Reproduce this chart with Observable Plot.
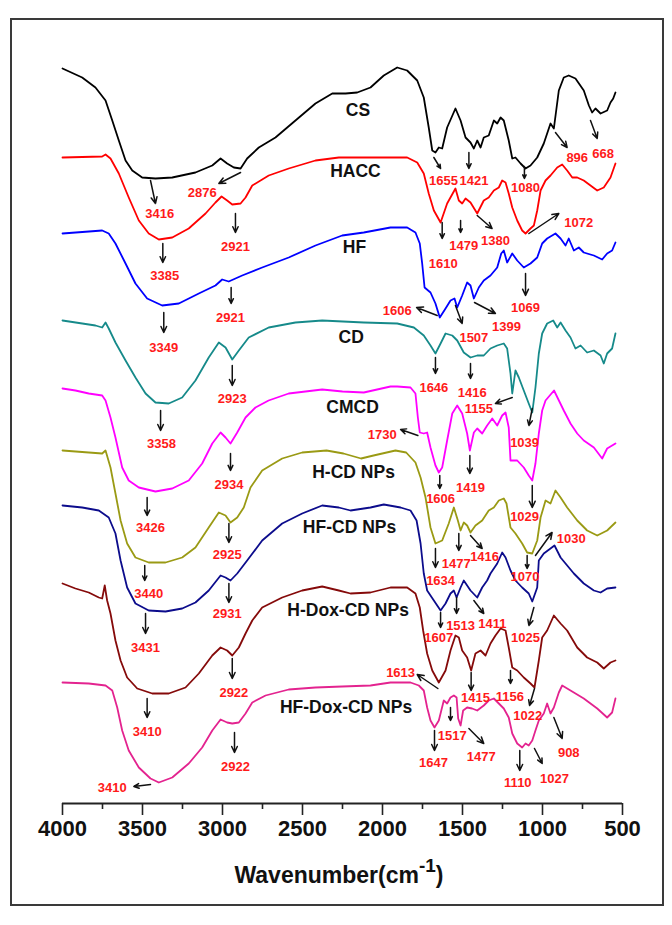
<!DOCTYPE html>
<html>
<head>
<meta charset="utf-8">
<script src="https://cdn.jsdelivr.net/npm/d3@7"></script>
<script src="https://cdn.jsdelivr.net/npm/@observablehq/plot@0.6"></script>
<style>
  html, body { margin: 0; padding: 0; background: #fff; }
  #wrap { position: relative; width: 672px; height: 925px; }
  #border { position: absolute; left: 10px; top: 18px; width: 650px; height: 884px; border: 2px solid #3a3a3a; pointer-events: none; }
  svg { position: absolute; left: 0; top: 0; }
</style>
</head>
<body>
<div id="wrap"><div id="border"></div></div>
<script>
// ---- series (wavenumber cm-1, offset transmittance a.u.) ----
const seriesNames = ["CS","HACC","HF","CD","CMCD","H-CD NPs","HF-CD NPs","H-Dox-CD NPs","HF-Dox-CD NPs"];
const seriesColors = ["#000000","#ff0000","#0000ff","#168a8a","#ff00ff","#9a9a14","#0c0c8c","#850a0a","#e3238f"];

const CS = [[4000,735],[3877,726],[3794,716],[3731,703],[3689,683],[3648,663],[3606,643],[3564,633],[3502,626],[3419,625],[3314,626],[3169,631],[3064,638],[3012,645],[2971,640],[2929,636],[2887,635],[2846,645],[2773,656],[2669,666],[2544,683],[2419,700],[2314,710],[2231,710],[2158,711],[2075,716],[1992,728],[1908,736],[1846,733],[1783,723],[1742,706],[1711,676],[1689,653],[1669,651],[1648,656],[1627,655],[1596,676],[1544,695],[1512,683],[1481,666],[1450,661],[1429,655],[1408,663],[1387,656],[1367,666],[1336,668],[1304,683],[1283,680],[1262,686],[1242,683],[1211,663],[1189,645],[1169,646],[1137,640],[1106,635],[1075,638],[1033,646],[992,660],[950,680],[929,675],[898,713],[867,726],[836,728],[794,725],[742,713],[710,698],[690,691],[669,695],[637,690],[596,693],[575,701],[558,705],[544,711]];

const HACC = [[4000,646],[3752,647],[3731,649],[3700,645],[3648,630],[3586,606],[3523,583],[3461,570],[3398,564],[3314,566],[3211,575],[3106,590],[3044,601],[3006,607],[2971,603],[2939,599],[2887,600],[2856,606],[2814,618],[2711,628],[2586,635],[2419,643],[2273,646],[1846,646],[1783,641],[1742,630],[1711,610],[1679,593],[1637,581],[1596,600],[1544,615],[1523,603],[1502,600],[1481,605],[1450,601],[1408,590],[1367,603],[1336,606],[1304,613],[1273,616],[1252,623],[1231,621],[1211,610],[1189,596],[1158,583],[1127,573],[1106,570],[1075,575],[1054,578],[1033,593],[1012,613],[981,623],[950,628],[908,636],[877,639],[846,633],[814,626],[783,626],[742,623],[700,618],[658,613],[617,616],[575,626],[544,640]];

const HF = [[4000,570],[3752,573],[3711,570],[3669,560],[3606,540],[3544,520],[3471,505],[3377,498],[3273,500],[3148,510],[3044,518],[3002,524],[2961,522],[2919,525],[2877,528],[2752,536],[2586,546],[2419,558],[2252,568],[2117,571],[1950,576],[1846,576],[1794,571],[1767,560],[1752,540],[1737,516],[1700,511],[1669,500],[1642,486],[1606,495],[1575,503],[1550,505],[1533,496],[1502,508],[1471,521],[1450,518],[1429,505],[1398,516],[1367,523],[1325,528],[1283,536],[1258,550],[1242,553],[1221,541],[1189,550],[1158,543],[1117,536],[1075,540],[1033,546],[1002,560],[971,565],[919,570],[887,565],[856,558],[836,565],[804,553],[773,556],[742,551],[679,548],[627,544],[596,550],[565,553],[544,561]];

const CD = [[4000,483],[3794,478],[3752,476],[3731,481],[3711,475],[3669,461],[3606,443],[3544,426],[3481,410],[3419,401],[3336,400],[3252,406],[3169,423],[3086,446],[3023,461],[2981,456],[2939,444],[2898,453],[2836,466],[2711,476],[2544,481],[2377,483],[2117,481],[1908,480],[1804,476],[1742,468],[1700,458],[1669,450],[1637,460],[1606,470],[1564,468],[1533,463],[1492,451],[1450,446],[1408,448],[1367,448],[1325,455],[1283,458],[1242,460],[1221,455],[1200,430],[1189,410],[1169,433],[1148,426],[1117,413],[1086,400],[1064,391],[1044,416],[1023,450],[1002,470],[971,480],[933,483],[908,476],[887,481],[856,473],[825,466],[794,455],[762,458],[721,451],[679,453],[637,448],[617,440],[596,450],[565,455],[544,470]];

const CMCD = [[4000,415],[3919,413],[3836,410],[3752,408],[3731,403],[3700,386],[3669,366],[3627,336],[3586,323],[3523,316],[3419,312],[3314,315],[3211,323],[3127,340],[3064,360],[3012,371],[2981,366],[2950,360],[2908,371],[2856,386],[2794,396],[2712,403],[2586,410],[2377,414],[2250,412],[2117,411],[1950,417],[1908,417],[1825,416],[1794,410],[1779,386],[1767,371],[1742,370],[1721,371],[1700,356],[1669,338],[1648,331],[1627,336],[1596,363],[1564,390],[1533,398],[1502,390],[1471,370],[1454,353],[1429,371],[1408,375],[1377,370],[1346,378],[1314,385],[1283,378],[1252,388],[1231,391],[1211,376],[1200,343],[1158,343],[1117,336],[1086,328],[1064,323],[1044,340],[1023,370],[1002,393],[981,403],[928,413],[867,393],[825,380],[783,370],[742,363],[679,356],[627,345],[596,355],[544,360]];

const HCD = [[4000,353],[3836,351],[3752,350],[3731,353],[3700,336],[3669,310],[3637,283],[3596,260],[3544,246],[3461,241],[3356,241],[3252,246],[3169,256],[3086,276],[3023,291],[2981,288],[2950,281],[2908,286],[2867,296],[2825,316],[2752,333],[2627,345],[2502,351],[2350,353],[2244,350],[2134,345],[2056,348],[1919,353],[1852,351],[1794,341],[1762,326],[1731,306],[1700,276],[1669,260],[1627,263],[1586,280],[1554,296],[1529,283],[1512,273],[1492,281],[1471,278],[1450,271],[1419,278],[1377,283],[1336,293],[1304,296],[1273,303],[1242,305],[1225,300],[1200,276],[1169,270],[1127,260],[1096,251],[1064,250],[1033,263],[1012,286],[981,303],[950,300],[919,313],[887,306],[846,296],[783,283],[721,273],[658,268],[596,273],[544,281]];

const HFCD = [[4000,298],[3877,296],[3773,293],[3711,286],[3669,270],[3637,243],[3596,216],[3544,200],[3461,193],[3356,192],[3252,195],[3169,201],[3086,213],[3012,228],[2981,226],[2950,223],[2908,230],[2846,243],[2752,263],[2627,280],[2502,290],[2377,298],[2273,296],[2200,293],[2075,296],[1992,299],[1887,296],[1825,293],[1787,283],[1762,260],[1742,230],[1721,213],[1679,203],[1637,193],[1606,200],[1575,210],[1554,213],[1537,206],[1512,216],[1492,223],[1450,213],[1408,206],[1377,216],[1346,223],[1325,230],[1283,240],[1252,251],[1231,246],[1200,233],[1169,223],[1127,216],[1086,210],[1064,202],[1033,216],[1023,243],[992,250],[950,255],[925,258],[887,246],[856,240],[804,230],[742,220],[679,213],[637,211],[596,215],[544,216]];

const HDOX = [[4000,220],[3919,215],[3836,211],[3773,206],[3752,205],[3736,218],[3721,203],[3700,190],[3669,163],[3637,143],[3596,126],[3533,115],[3439,110],[3336,110],[3231,116],[3148,130],[3064,148],[3012,156],[2971,153],[2939,148],[2898,156],[2856,170],[2814,183],[2752,196],[2627,206],[2502,213],[2377,217],[2273,213],[2200,210],[2075,211],[1950,216],[1846,216],[1794,210],[1767,196],[1746,173],[1721,150],[1689,133],[1648,121],[1606,133],[1575,153],[1544,168],[1523,166],[1502,153],[1471,146],[1446,133],[1419,150],[1387,153],[1356,148],[1325,160],[1294,168],[1262,175],[1231,173],[1211,156],[1189,136],[1158,133],[1117,126],[1075,120],[1050,116],[1023,143],[1002,166],[971,173],[929,188],[887,180],[846,173],[783,156],[721,146],[658,141],[617,135],[575,141],[544,143]];

const HFDOX = [[4000,121],[3836,120],[3731,118],[3689,113],[3658,96],[3627,73],[3586,53],[3523,36],[3450,25],[3398,21],[3314,26],[3211,40],[3127,56],[3064,73],[3012,84],[2971,81],[2939,80],[2898,81],[2856,90],[2814,101],[2731,108],[2586,114],[2419,116],[2252,117],[2075,118],[1950,121],[1825,121],[1773,118],[1742,113],[1721,96],[1700,83],[1675,76],[1648,83],[1617,103],[1596,100],[1575,106],[1554,108],[1537,106],[1527,85],[1512,78],[1496,93],[1471,96],[1440,95],[1408,93],[1367,98],[1336,103],[1304,105],[1273,100],[1242,95],[1211,86],[1189,70],[1158,60],[1127,56],[1106,60],[1086,58],[1064,63],[1044,73],[1023,83],[992,90],[971,100],[950,90],[929,96],[898,111],[877,118],[825,113],[742,105],[658,95],[596,86],[565,91],[544,105]];

const seriesData = [CS, HACC, HF, CD, CMCD, HCD, HFCD, HDOX, HFDOX];

// series name labels (wavenumber, a.u.)
const nameX = [2153,2169,2175,2196,2187,2181,2206,2215,2228];
const nameY = [693,632,556,466,396,331,276,193,96];

// peak annotations: label, label x, label y, arrow start x, start y, arrow end x, end y
const peaks = [
  ["3416",3392,590,3450,623,3419,600],
  ["2876",3127,611,2887,631,3023,620],
  ["3385",3361,528,3373,560,3373,541],
  ["2921",2919,557,2919,590,2919,571],
  ["3349",3367,456,3367,491,3367,471],
  ["2921",2950,486,2946,516,2946,500],
  ["2923",2939,405,2939,438,2939,418],
  ["3358",3381,360,3387,393,3387,373],
  ["2934",2960,319,2950,350,2950,333],
  ["3426",3450,276,3471,306,3471,288],
  ["2925",2971,249,2960,280,2960,261],
  ["3440",3461,210,3486,238,3486,223],
  ["2931",2971,190,2960,220,2960,201],
  ["3431",3481,156,3481,190,3481,170],
  ["2922",2929,111,2939,145,2939,125],
  ["3410",3471,72,3471,105,3471,86],
  ["2922",2919,37,2925,71,2925,51],
  ["3410",3689,16,3450,19,3554,17],
  ["896",783,646,919,671,846,656],
  ["668",621,650,700,683,658,665],
  ["1655",1619,623,1679,646,1637,635],
  ["1421",1428,623,1460,651,1460,635],
  ["1080",1106,616,1113,637,1113,625],
  ["1072",773,581,1085,570,898,590],
  ["1380",1294,563,1408,588,1315,575],
  ["1610",1621,540,1627,581,1627,565],
  ["1479",1492,558,1512,583,1512,571],
  ["1606",1908,493,1658,488,1787,496],
  ["1507",1429,466,1544,498,1502,480],
  ["1399",1225,477,1425,501,1294,490],
  ["1069",1106,496,1106,530,1106,508],
  ["1646",1679,416,1669,446,1669,430],
  ["1416",1439,411,1450,440,1450,425],
  ["1155",1398,395,1189,406,1294,400],
  ["1039",1112,361,1064,395,1085,378],
  ["1730",2002,369,1779,368,1887,374],
  ["1606",1637,305,1642,328,1642,315],
  ["1419",1450,316,1454,348,1454,330],
  ["1029",1112,287,1064,318,1064,296],
  ["1634",1637,223,1669,255,1669,236],
  ["1477",1539,240,1523,270,1523,253],
  ["1416",1362,247,1450,268,1377,255],
  ["1070",1110,227,1096,248,1096,235],
  ["1030",821,265,1044,248,940,271],
  ["1607",1648,166,1637,191,1637,176],
  ["1513",1512,178,1537,206,1537,190],
  ["1411",1314,180,1429,203,1367,190],
  ["1025",1106,166,1054,196,1085,178],
  ["1613",1887,131,1654,115,1783,129],
  ["1415",1419,106,1446,131,1446,113],
  ["1156",1204,107,1200,133,1200,120],
  ["1022",1092,88,1050,115,1081,98],
  ["1647",1681,41,1675,73,1675,53],
  ["1517",1564,68,1575,96,1575,83],
  ["1477",1383,47,1460,75,1367,60],
  ["1110",1154,21,1142,53,1142,33],
  ["1027",925,25,1050,55,1002,40],
  ["908",836,51,929,86,877,65]
];

const majorTicks = [4000,3500,3000,2500,2000,1500,1000,500];
const minorTicks = [3750,3250,2750,2250,1750,1250,750];

// ---- build tables ----
const rows = seriesData.flatMap((arr, i) => arr.map(([wn, t]) => ({series: seriesNames[i], wn, t})));
const nameRows = seriesNames.map((s, i) => ({s, x: nameX[i], y: nameY[i]}));
const peakRows = peaks.map(([label, x, y, x1, y1, x2, y2]) => ({label, x, y, x1, y1, x2, y2}));

const W = 672, H = 925, mL = 62, mR = 50, mT = 40, mB = 122;

const chart = Plot.plot({
  width: W, height: H,
  marginLeft: mL, marginRight: mR, marginTop: mT, marginBottom: mB,
  style: {fontFamily: "'Liberation Sans', Arial, sans-serif", fontWeight: "bold", background: "transparent", overflow: "visible"},
  x: {domain: [4000, 500], label: null},
  y: {domain: [0, 763], axis: null},
  color: {domain: seriesNames, range: seriesColors},
  marks: [
    Plot.axisX({ticks: minorTicks, anchor: "bottom", tickSize: 6, tickFormat: () => "", label: null, stroke: "#222", strokeWidth: 1.6}),
    Plot.axisX({ticks: majorTicks, anchor: "bottom", tickSize: 12, tickPadding: 5, tickFormat: "d", label: null, fontSize: 22, fontWeight: "bold", stroke: "#222", strokeWidth: 1.6, fill: "#111"}),
    Plot.ruleY([0], {stroke: "#222", strokeWidth: 2.2}),
    Plot.line(rows, {x: "wn", y: "t", z: "series", stroke: "series", strokeWidth: 1.8, curve: "linear"}),
    Plot.arrow(peakRows, {x1: "x1", y1: "y1", x2: "x2", y2: "y2", stroke: "#111", strokeWidth: 1.5, headLength: 7, headAngle: 50}),
    Plot.text(peakRows, {x: "x", y: "y", text: "label", fill: "#ff1a1a", fontSize: 13, fontWeight: "bold", textAnchor: "middle", lineAnchor: "middle"}),
    Plot.text(nameRows, {x: "x", y: "y", text: "s", fill: "#111", fontSize: 17.5, fontWeight: "bold", textAnchor: "middle", lineAnchor: "middle"})
  ]
});

// axis title with superscript
const t = d3.select(chart).append("text")
  .attr("x", (mL + W - mR) / 2 - 3)
  .attr("y", H - mB + 80)
  .attr("text-anchor", "middle")
  .attr("font-size", 23)
  .attr("font-weight", "bold")
  .attr("fill", "#111")
  .attr("font-family", "'Liberation Sans', Arial, sans-serif");
t.append("tspan").text("Wavenumber(cm");
t.append("tspan").attr("dy", -11).attr("font-size", 19).text("-1");
t.append("tspan").attr("dy", 11).text(")");

document.getElementById("wrap").appendChild(chart);
</script>
</body>
</html>
